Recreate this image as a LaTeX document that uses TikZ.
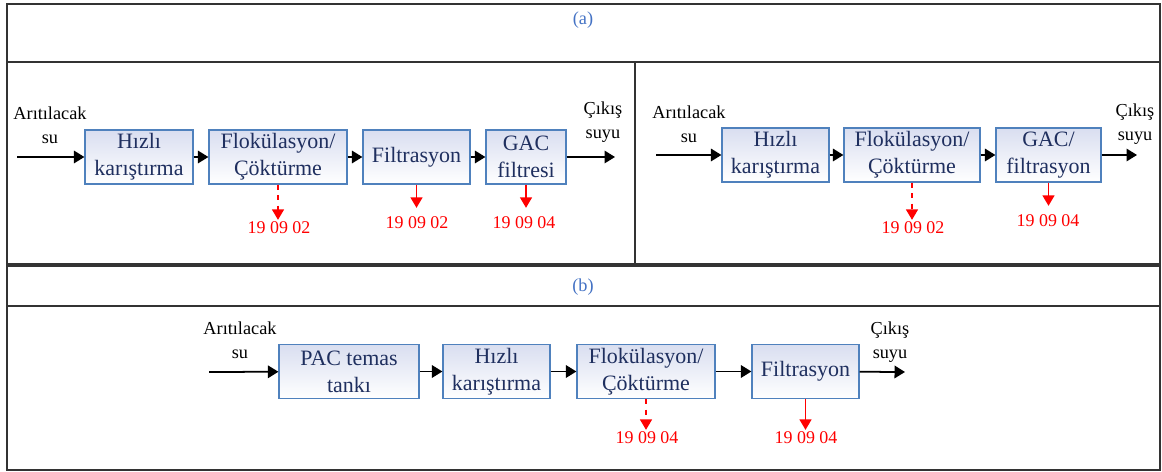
\documentclass[tikz,border=0pt]{standalone}
\usepackage{fontspec}
\setmainfont{Liberation Serif}
\usepackage{xcolor}
\usetikzlibrary{arrows.meta}
\definecolor{boxblue}{HTML}{4F81BD}
\definecolor{boxtext}{HTML}{1F2F5F}
\definecolor{boxfill}{HTML}{D9DEF0}
\definecolor{tagblue}{HTML}{4472C4}

\begin{document}
\begin{tikzpicture}[x=0.02cm,y=-0.02cm,
  unit/.style={draw=boxblue,line width=0.7pt,top color=boxfill,bottom color=white,
    text=boxtext,font=\fontsize{12.5}{15.3}\selectfont,align=center,inner sep=0pt,
    minimum height=1.08cm},
  flow/.style={line width=1pt,-{Triangle[length=2.1mm,width=2.5mm]}},
  waste/.style={red,line width=0.9pt,-{Triangle[length=2.1mm,width=2.4mm]}},
  code/.style={red,font=\fontsize{10.2}{12}\selectfont,inner sep=1pt},
  note/.style={font=\fontsize{10.4}{13.6}\selectfont,align=center,inner sep=0pt},
  tag/.style={text=tagblue,font=\fontsize{10.4}{12}\selectfont},
  grid/.style={line width=0.8pt,draw=black!80}]
\useasboundingbox (0,0) rectangle (1162,472);

% Table frame
\draw[grid] (7,4) rectangle (1160,470);
\draw[grid] (7,62) -- (1160,62);
\draw[grid] (635,62) -- (635,265);
\draw[grid,line width=1.8pt] (7,265) -- (1160,265);
\draw[grid] (7,306) -- (1160,306);
\node[tag] (tagA) at (583,20) {(a)};
\node[tag] (tagB) at (583,287) {(b)};

% Panel (a), left scheme
\node[unit,minimum width=2.16cm] (hizliA) at (139,157) {H\i zl\i\\kar\i\c{s}t\i rma};
\node[unit,minimum width=2.76cm] (flokA) at (278,157) {Flokülasyon/\\Çöktürme};
\node[unit,minimum width=2.14cm] (filtA) at (416.5,157) {Filtrasyon};
\node[unit,minimum width=1.6cm] (gacA) at (526,157) {GAC\\filtresi};
\coordinate (inA) at (17,157);
\coordinate (outA) at (615,157);
\node[note] (inTxtA) at (50,125) {Ar\i t\i lacak\\su};
\node[note] (outTxtA) at (603,122) {Ç\i k\i\c{s}\\suyu};
\draw[flow] (inA) -- (hizliA);
\draw[flow] (hizliA) -- (flokA);
\draw[flow] (flokA) -- (filtA);
\draw[flow] (filtA) -- (gacA);
\draw[flow] (gacA) -- (outA);
\node[code] (codeA1) at (279,228) {19 09 02};
\node[code] (codeA2) at (417,223) {19 09 02};
\node[code] (codeA3) at (524,223) {19 09 04};
\draw[waste,dashed] (flokA.south) -- (flokA.south |- codeA1.north);
\draw[waste,shorten >=4] (filtA.south) -- (filtA.south |- codeA2.north);
\draw[waste,shorten >=4] (gacA.south) -- (gacA.south |- codeA3.north);

% Panel (a), right scheme
\node[unit,minimum width=2.14cm] (hizliB) at (775.5,155) {H\i zl\i\\kar\i\c{s}t\i rma};
\node[unit,minimum width=2.72cm] (flokB) at (912,155) {Flokülasyon/\\Çöktürme};
\node[unit,minimum width=2.1cm] (gacB) at (1048.5,155) {GAC/\\filtrasyon};
\coordinate (inB) at (656,155);
\coordinate (outB) at (1137,155);
\node[note] (inTxtB) at (689,124) {Ar\i t\i lacak\\su};
\node[note] (outTxtB) at (1135,124) {Ç\i k\i\c{s}\\suyu};
\draw[flow] (inB) -- (hizliB);
\draw[flow] (hizliB) -- (flokB);
\draw[flow] (flokB) -- (gacB);
\draw[flow] (gacB) -- (outB);
\node[code] (codeB1) at (913,228) {19 09 02};
\node[code] (codeB2) at (1048,221) {19 09 04};
\draw[waste,dashed] (flokB.south) -- (flokB.south |- codeB1.north);
\draw[waste,shorten >=4] (gacB.south) -- (gacB.south |- codeB2.north);

% Panel (b)
\node[unit,minimum width=2.8cm] (pacC) at (349,371.5) {PAC temas\\tank\i};
\node[unit,minimum width=2.14cm] (hizliC) at (496.5,371.5) {H\i zl\i\\kar\i\c{s}t\i rma};
\node[unit,minimum width=2.76cm] (flokC) at (646,371.5) {Flokülasyon/\\Çöktürme};
\node[unit,minimum width=2.14cm] (filtC) at (805.5,371.5) {Filtrasyon};
\coordinate (inC) at (209,372);
\coordinate (outC) at (905,372);
\node[note] (inTxtC) at (240,340) {Ar\i t\i lacak\\su};
\node[note] (outTxtC) at (890,342) {Ç\i k\i\c{s}\\suyu};
\draw[flow] (inC) -- (pacC);
\draw[flow] (pacC) -- (hizliC);
\draw[flow] (hizliC) -- (flokC);
\draw[flow] (flokC) -- (filtC);
\draw[flow] (filtC) -- (outC);
\node[code] (codeC1) at (647,438) {19 09 04};
\node[code] (codeC2) at (806,438) {19 09 04};
\draw[waste,dashed] (flokC.south) -- (flokC.south |- codeC1.north);
\draw[waste] (filtC.south) -- (filtC.south |- codeC2.north);
\end{tikzpicture}
\end{document}
